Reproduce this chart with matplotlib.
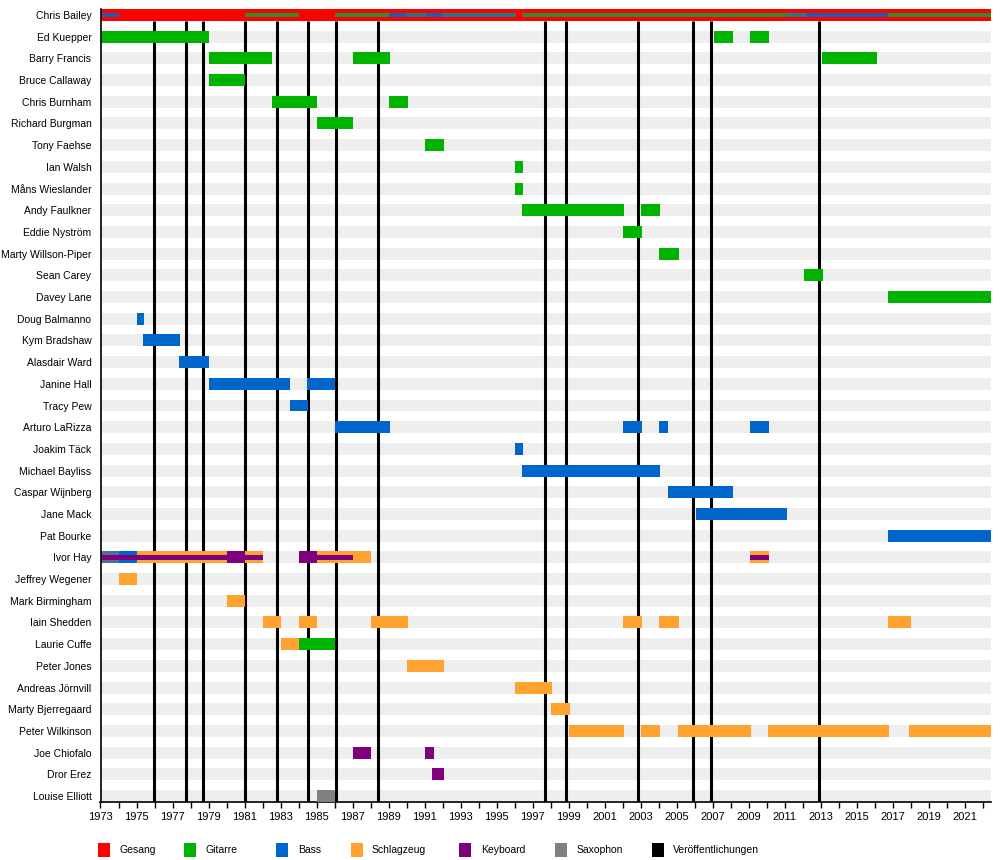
import matplotlib
matplotlib.use("Agg")
import matplotlib.pyplot as plt
from matplotlib.patches import Rectangle

# ---------------- data ----------------
END = 2022.45
members = ["Chris Bailey", "Ed Kuepper", "Barry Francis", "Bruce Callaway", "Chris Burnham",
           "Richard Burgman", "Tony Faehse", "Ian Walsh", "Måns Wieslander", "Andy Faulkner",
           "Eddie Nyström", "Marty Willson-Piper", "Sean Carey", "Davey Lane", "Doug Balmanno",
           "Kym Bradshaw", "Alasdair Ward", "Janine Hall", "Tracy Pew", "Arturo LaRizza",
           "Joakim Täck", "Michael Bayliss", "Caspar Wijnberg", "Jane Mack", "Pat Bourke",
           "Ivor Hay", "Jeffrey Wegener", "Mark Birmingham", "Iain Shedden", "Laurie Cuffe",
           "Peter Jones", "Andreas Jörnvill", "Marty Bjerregaard", "Peter Wilkinson",
           "Joe Chiofalo", "Dror Erez", "Louise Elliott"]

vocals = [("Chris Bailey", 1973.0, END)]

guitar = [("Ed Kuepper", 1973.0, 1979.0), ("Ed Kuepper", 2007.1, 2008.15), ("Ed Kuepper", 2009.1, 2010.15),
          ("Barry Francis", 1979.0, 1982.55), ("Barry Francis", 1987.0, 1989.1), ("Barry Francis", 2013.1, 2016.15),
          ("Bruce Callaway", 1979.0, 1981.0),
          ("Chris Burnham", 1982.5, 1985.0), ("Chris Burnham", 1989.05, 1990.1),
          ("Richard Burgman", 1985.0, 1987.0),
          ("Tony Faehse", 1991.05, 1992.1),
          ("Ian Walsh", 1996.05, 1996.45),
          ("Måns Wieslander", 1996.05, 1996.45),
          ("Andy Faulkner", 1996.4, 2002.1), ("Andy Faulkner", 2003.05, 2004.1),
          ("Eddie Nyström", 2002.05, 2003.1),
          ("Marty Willson-Piper", 2004.05, 2005.15),
          ("Sean Carey", 2012.1, 2013.15),
          ("Davey Lane", 2016.75, END),
          ("Laurie Cuffe", 1984.0, 1986.05)]

bass = [("Doug Balmanno", 1975.0, 1975.4),
        ("Kym Bradshaw", 1975.35, 1977.4),
        ("Alasdair Ward", 1977.35, 1979.05),
        ("Janine Hall", 1979.0, 1983.5), ("Janine Hall", 1984.45, 1986.05),
        ("Tracy Pew", 1983.5, 1984.5),
        ("Arturo LaRizza", 1986.0, 1989.1), ("Arturo LaRizza", 2002.05, 2003.1),
        ("Arturo LaRizza", 2004.05, 2004.55), ("Arturo LaRizza", 2009.1, 2010.15),
        ("Joakim Täck", 1996.05, 1996.45),
        ("Michael Bayliss", 1996.4, 2004.1),
        ("Caspar Wijnberg", 2004.5, 2008.15),
        ("Jane Mack", 2006.1, 2011.15),
        ("Pat Bourke", 2016.75, END),
        ("Ivor Hay", 1974.0, 1975.0)]

drums = [("Ivor Hay", 1975.0, 1982.0), ("Ivor Hay", 1984.0, 1988.05), ("Ivor Hay", 2009.1, 2010.15),
         ("Jeffrey Wegener", 1974.0, 1975.05),
         ("Mark Birmingham", 1980.0, 1981.05),
         ("Iain Shedden", 1982.0, 1983.05), ("Iain Shedden", 1984.0, 1985.0), ("Iain Shedden", 1988.0, 1990.1),
         ("Iain Shedden", 2002.05, 2003.1), ("Iain Shedden", 2004.05, 2005.15), ("Iain Shedden", 2016.75, 2018.0),
         ("Laurie Cuffe", 1983.0, 1984.0),
         ("Peter Jones", 1990.05, 1992.1),
         ("Andreas Jörnvill", 1996.05, 1998.1),
         ("Marty Bjerregaard", 1998.05, 1999.1),
         ("Peter Wilkinson", 1999.05, 2002.1), ("Peter Wilkinson", 2003.05, 2004.1),
         ("Peter Wilkinson", 2005.1, 2009.15), ("Peter Wilkinson", 2010.1, 2016.8),
         ("Peter Wilkinson", 2017.9, END)]

keyboard = [("Ivor Hay", 1980.0, 1981.0), ("Ivor Hay", 1984.0, 1985.0),
            ("Joe Chiofalo", 1987.0, 1988.05), ("Joe Chiofalo", 1991.05, 1991.5),
            ("Dror Erez", 1991.4, 1992.1)]

saxophone = [("Louise Elliott", 1985.0, 1986.05)]

# mixed segments (bass + drums blend at Ivor Hay's start)
mixed_bars = [("Ivor Hay", 1973.0, 1974.0)]

# thin secondary-role lines drawn inside bars
line_bass = [("Chris Bailey", 1973.0, 1974.0), ("Chris Bailey", 1989.0, 1990.0),
             ("Chris Bailey", 1991.1, 1992.05), ("Chris Bailey", 2012.2, 2016.75)]
line_guitar = [("Chris Bailey", 1981.0, 1984.0), ("Chris Bailey", 1986.0, 1989.0),
               ("Chris Bailey", 1996.4, 2011.1), ("Chris Bailey", 2016.75, END)]
line_both = [("Chris Bailey", 1990.0, 1991.1), ("Chris Bailey", 1992.05, 1996.1),
             ("Chris Bailey", 2011.1, 2012.2)]
line_keyboard = [("Ivor Hay", 1973.0, 1982.0), ("Ivor Hay", 1985.0, 1987.0),
                 ("Ivor Hay", 2009.1, 2010.15)]

releases = [1975.98, 1977.77, 1978.71, 1981.05, 1982.8, 1984.5, 1986.1, 1988.43,
            1997.71, 1998.87, 2002.86, 2005.93, 2006.92, 2012.93]

legend_labels = ["Gesang", "Gitarre", "Bass", "Schlagzeug", "Keyboard", "Saxophon", "Veröffentlichungen"]

# ---------------- style ----------------
C_VOC = "#ff0000"
C_GTR = "#00b300"
C_BASS = "#0066cc"
C_DRUM = "#ffa22f"
C_KEY = "#7f007f"
C_SAX = "#808080"
C_REL = "#000000"
C_GTR_LINE = "#2f8f2f"
C_BASS_LINE = "#1f5fae"
C_BOTH_LINE = "#1a7d8c"
C_MIX = "#4f6e9e"
legend_colors = [C_VOC, C_GTR, C_BASS, C_DRUM, C_KEY, C_SAX, C_REL]

plt.rcParams['font.family'] = ['Liberation Sans', 'DejaVu Sans']

fig = plt.figure(figsize=(10, 8.6), dpi=100)
ax = fig.add_axes([0.1005, 1 - 802 / 860, 0.8902, (802 - 9) / 860])

idx = {m: i for i, m in enumerate(members)}
BH = 0.553
LH = 0.2

# background stripes
ax.barh(range(len(members)), END - 1973.0, left=1973.0, height=BH, color="#eeeeee", zorder=1, linewidth=0)

# release lines
ax.vlines(releases, BH / 2, len(members) - 1 + BH / 2, colors=C_REL, linewidth=2.2, zorder=2)


def draw(data, color, h, z):
    for name, s, e in data:
        ax.barh(idx[name], e - s, left=s, height=h, color=color, linewidth=0, zorder=z)


draw(vocals, C_VOC, BH, 3)
draw(guitar, C_GTR, BH, 3)
draw(bass, C_BASS, BH, 3)
draw(drums, C_DRUM, BH, 3)
draw(mixed_bars, C_MIX, BH, 3)
draw(keyboard, C_KEY, BH, 4)
draw(saxophone, C_SAX, BH, 3)
draw(line_bass, C_BASS_LINE, LH, 5)
draw(line_guitar, C_GTR_LINE, LH, 5)
draw(line_both, C_BOTH_LINE, LH, 5)
draw(line_keyboard, C_KEY, LH, 5)

ax.set_xlim(1973.0, END)
ax.set_ylim(len(members) - 1 + BH / 2, -BH / 2)

ax.set_yticks(range(len(members)))
ax.set_yticklabels(members, fontsize=7.5)
ax.tick_params(axis='y', length=0, pad=6.5)

ax.set_xticks(list(range(1973, 2022, 2)))
ax.set_xticks(list(range(1973, 2023)), minor=True)
ax.set_xticklabels([str(y) for y in range(1973, 2022, 2)], fontsize=8,
                   family=['Liberation Sans Narrow', 'Liberation Sans', 'DejaVu Sans'])
ax.tick_params(axis='x', which='both', length=4, width=1, direction='out', pad=3)

for s in ['top', 'right']:
    ax.spines[s].set_visible(False)
ax.spines['left'].set_linewidth(1.2)
ax.spines['bottom'].set_linewidth(1.2)
ax.spines['left'].set_zorder(6)

# legend
sq_x = [98, 184, 276, 351, 459, 555, 652]
tx_x = [120, 205, 298, 372, 481, 577, 673]
for c, lab, sx, tx in zip(legend_colors, legend_labels, sq_x, tx_x):
    fig.patches.append(Rectangle((sx / 1000, 1 - 857 / 860), 12 / 1000, 14 / 860,
                                 transform=fig.transFigure, color=c, linewidth=0))
    fig.text(tx / 1000, 1 - 850 / 860, lab, fontsize=7.5, va='center', ha='left',
             family=['Liberation Sans Narrow', 'Liberation Sans', 'DejaVu Sans'])

fig.savefig("out.png", dpi=100)
